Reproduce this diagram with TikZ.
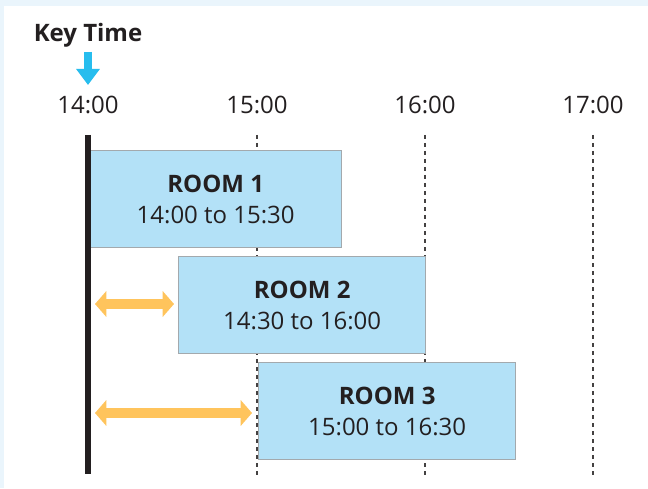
\documentclass[tikz,border=0pt]{standalone}
\usepackage{fontspec}
\setmainfont{Open Sans}
\usetikzlibrary{positioning}
\usetikzlibrary{arrows.meta}
\definecolor{roomblue}{HTML}{B3E1F7}
\definecolor{roomedge}{HTML}{A3A9AD}
\definecolor{gaporange}{HTML}{FFC45C}
\definecolor{keyblue}{HTML}{27BDEE}
\definecolor{paneblue}{HTML}{EAF5FC}
\definecolor{inkgray}{HTML}{231F20}
\tikzset{
  room/.style     = { rectangle, draw=roomedge, fill=roomblue, line width=1pt,
                      anchor=north west, align=center, inner sep=0pt,
                      font=\fontsize{18}{23}\selectfont, text=inkgray },
  timelabel/.style = { font=\fontsize{18}{21}\selectfont, text=inkgray },
  gridline/.style = { dashed, line width=0.9pt, draw=inkgray!85 },
  keyline/.style  = { line width=4pt, draw=inkgray },
  gap/.style      = { draw=gaporange, line width=7pt,
                      {Triangle[width=19pt,length=8.5pt]}-{Triangle[width=19pt,length=8.5pt]} },
  keyarrow/.style = { draw=keyblue, line width=6.5pt, -{Triangle[width=17pt,length=12pt]} }
}
\begin{document}
\begin{tikzpicture}[x=0.75pt,y=-0.75pt]
  \useasboundingbox (0,0) rectangle (648,488);
  \fill[paneblue] (0,0) rectangle (648,488);
  \fill[white] (4,6) rectangle (648,488);

  % hour labels and grid
  \node (keytime) [timelabel,font=\fontsize{18}{21}\selectfont\bfseries] at (88,35) {Key Time};
  \node (h14) [timelabel] at (88,105) {14:00};
  \node (h15) [timelabel] at (257,105) {15:00};
  \node (h16) [timelabel] at (425,105) {16:00};
  \node (h17) [timelabel] at (593,105) {17:00};
  \coordinate (top14) at (88,135);   \coordinate (bot14) at (88,474);
  \coordinate (top15) at (257,135);  \coordinate (bot15) at (257,476);
  \coordinate (top16) at (425,135);  \coordinate (bot16) at (425,476);
  \coordinate (top17) at (593,135);  \coordinate (bot17) at (593,476);
  \draw [gridline] (top15) -- (bot15);
  \draw [gridline] (top16) -- (bot16);
  \draw [gridline] (top17) -- (bot17);

  % rooms
  \node (room1) [room,minimum width=189pt,minimum height=72.75pt] at (89,150)
        {\textbf{ROOM 1}\\14:00 to 15:30};
  \node (room2) [room,minimum width=185.25pt,minimum height=72.75pt] at (178,256)
        {\textbf{ROOM 2}\\14:30 to 16:00};
  \node (room3) [room,minimum width=192.75pt,minimum height=72.75pt] at (258,362)
        {\textbf{ROOM 3}\\15:00 to 16:30};

  \draw [keyline] (top14) -- (bot14);
  \draw [keyarrow] (88,52) -- (88,85);

  % waiting gaps
  \coordinate (gap2) at (95,304);
  \coordinate (gap3) at (95,413);
  \draw [gap] (gap2) -- ([xshift=-3pt]room2.west |- gap2);
  \draw [gap] (gap3) -- ([xshift=-4.5pt]room3.west |- gap3);
\end{tikzpicture}
\end{document}
